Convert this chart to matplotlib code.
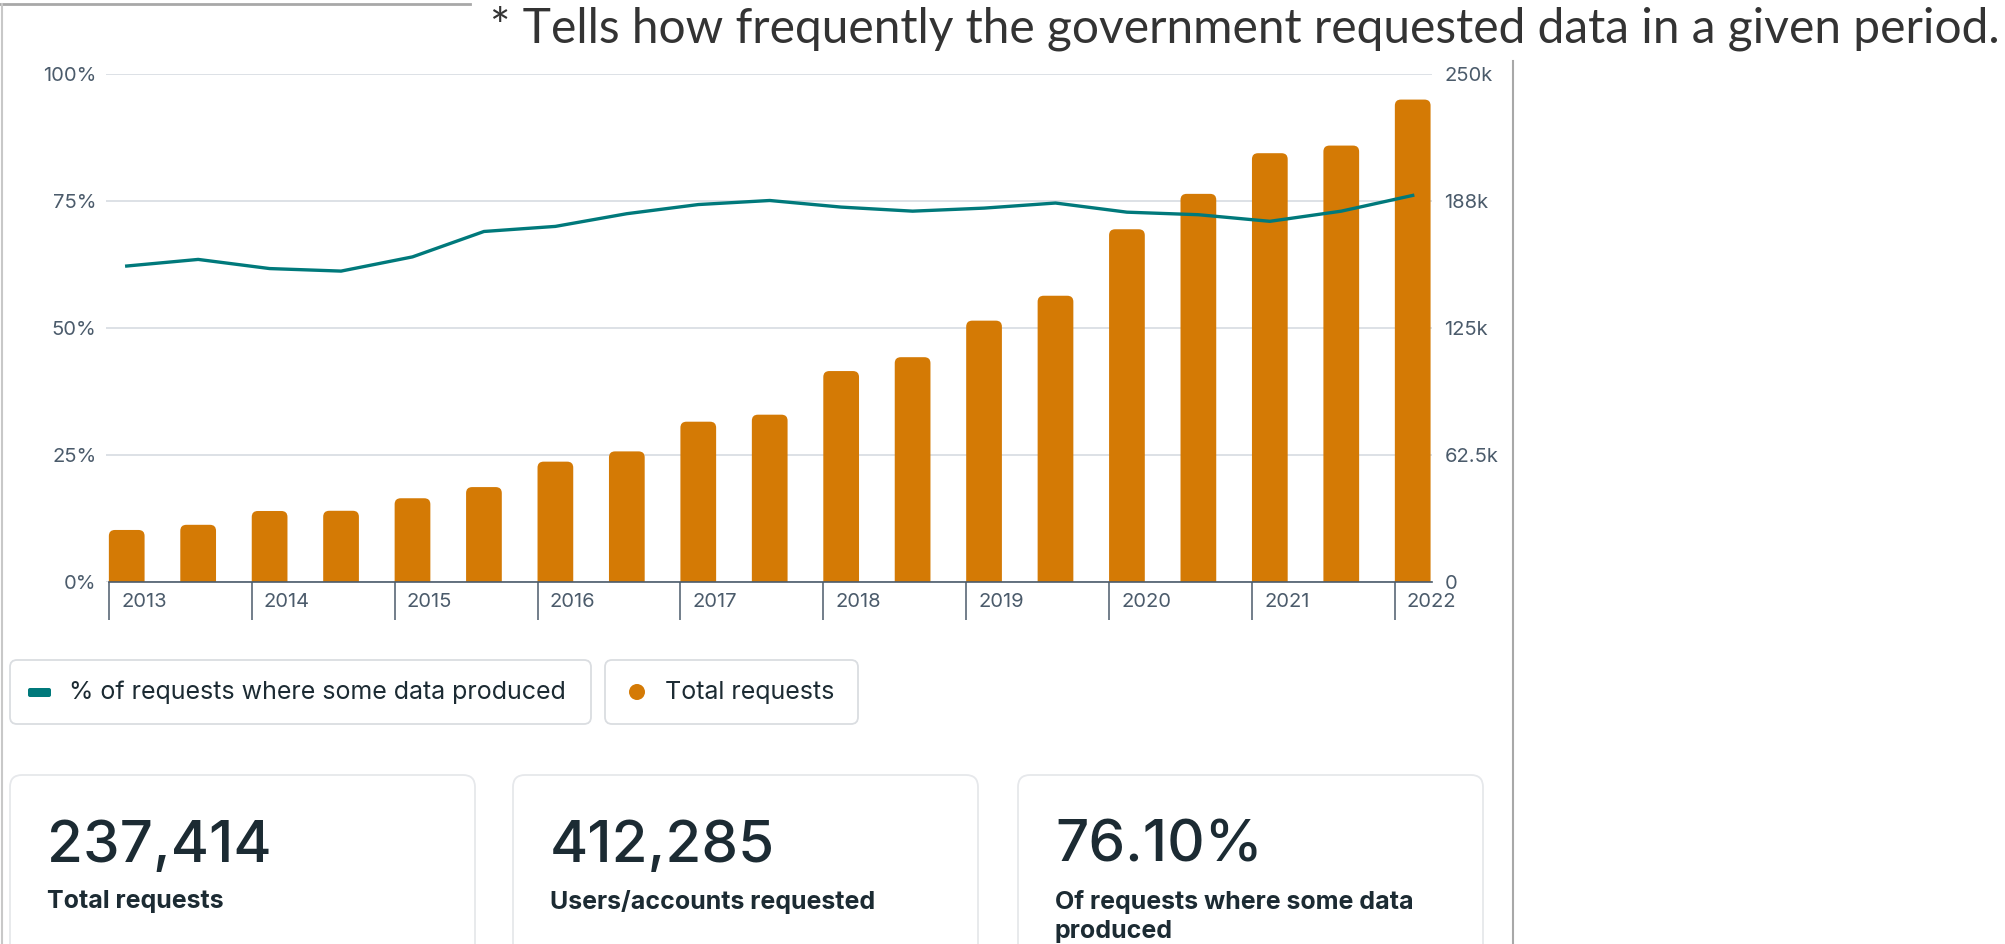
import numpy as np
import matplotlib
matplotlib.use("Agg")
import matplotlib.pyplot as plt
from matplotlib.patches import FancyBboxPatch, Circle
from matplotlib.lines import Line2D
import matplotlib.transforms as mtrans

plt.rcParams["font.family"] = ["Inter", "DejaVu Sans"]

# ---- data -------------------------------------------------------------
years = ["2013", "2014", "2015", "2016", "2017", "2018", "2019", "2020", "2021", "2022"]
# half-year periods, 2013 H1 ... 2022 H1
total_requests = [25607, 28147, 34946, 35051, 41214, 46710, 59229, 64279, 78890, 82341,
                  103815, 110634, 128617, 140875, 173592, 191013, 211024, 214777, 237414]
pct_produced = [62.2, 63.5, 61.7, 61.2, 64.0, 69.0, 70.0, 72.5, 74.3, 75.1,
                73.8, 73.0, 73.6, 74.6, 72.8, 72.3, 71.0, 73.0, 76.1]
users_requested = 412285

left_ticks = [0, 25, 50, 75, 100]
left_labels = ["0%", "25%", "50%", "75%", "100%"]
right_ticks = [0, 62500, 125000, 187500, 250000]
right_labels = ["0", "62.5k", "125k", "188k", "250k"]

series_names = ["% of requests where some data produced", "Total requests"]
title = "* Tells how frequently the government requested data in a given period."

ORANGE = "#D47A05"
TEAL = "#00797B"
SLATE = "#4B5B6B"
GRID = "#D3D9DF"
DARK = "#1C2B33"

W, H = 2005, 944
fig = plt.figure(figsize=(W / 100, H / 100), dpi=100)

# decoration layer in pixel coordinates
deco = fig.add_axes([0, 0, 1, 1], zorder=-1)
deco.set_xlim(0, W)
deco.set_ylim(H, 0)
deco.axis("off")

# ---- chart ------------------------------------------------------------
x = np.arange(len(total_requests))
bounds = np.arange(0, len(total_requests) + 1, 2) - 0.25

ax2 = fig.add_axes([106 / W, 1 - 582 / H, (1432 - 106) / W, 508 / H])
ax = ax2.twinx()
ax.yaxis.tick_left()
ax2.yaxis.tick_right()
ax.set_zorder(ax2.get_zorder() + 1)
ax.patch.set_visible(False)

ax2.set_xlim(-0.29, 18.27)
ax2.set_ylim(0, 250000)
bars = ax2.bar(x, total_requests, width=0.5, color=ORANGE, zorder=2)

# round the top corners (~6 px): swap each bar for a rounded patch
rx = 0.085
ry = 6 / 508 * 250000
for b in bars:
    b.set_visible(False)
    ax2.add_patch(FancyBboxPatch((b.get_x(), -ry), b.get_width(), b.get_height() + ry,
                                 boxstyle=f"round,pad=0,rounding_size={rx}",
                                 mutation_aspect=ry / rx, fc=ORANGE, ec="none",
                                 zorder=2))

ax2.set_yticks(right_ticks)
ax2.set_yticklabels(right_labels)
ax2.grid(True, axis="y", color=GRID, lw=1.1)
ax2.set_axisbelow(True)

ax.plot(x, pct_produced, color=TEAL, lw=2.4, solid_joinstyle="round")
ax.set_ylim(0, 100)
ax.set_yticks(left_ticks)
ax.set_yticklabels(left_labels)

for a in (ax, ax2):
    for s in a.spines.values():
        s.set_visible(False)
    a.tick_params(axis="y", length=0, labelsize=14.5, labelcolor=SLATE)
ax.tick_params(axis="y", pad=7)
ax2.tick_params(axis="y", pad=9)

ax2.spines["bottom"].set_visible(True)
ax2.spines["bottom"].set_bounds(-0.25, 18.27)
ax2.spines["bottom"].set_color(SLATE)
ax2.spines["bottom"].set_linewidth(1.2)
ax2.spines["bottom"].set_zorder(3)
ax2.set_xticks(bounds[:len(years)])
ax2.tick_params(axis="x", length=27, width=1.1, color=SLATE, labelbottom=False)

trans = mtrans.blended_transform_factory(ax2.transData, ax2.transAxes)
for b, yr in zip(bounds, years):
    ax2.text(b + 0.17, -0.04, yr, transform=trans, ha="left", va="center",
             fontsize=14.5, color=SLATE)

# ---- frame lines and title ---------------------------------------------
deco.add_line(Line2D([0, 470], [4, 4], color="#A8A8A8", lw=2))
deco.add_line(Line2D([2, 2], [4, H], color="#C8C8C8", lw=1.5))
deco.add_line(Line2D([1513, 1513], [61, H], color="#A8A8A8", lw=1.5))
deco.text(490, 28, title, family=["Lato", "DejaVu Sans"], fontsize=34.5,
          color="#333333", va="center", ha="left")

# ---- legend boxes --------------------------------------------------------
def box(x0, y0, x1, y1, r, ec):
    deco.add_patch(FancyBboxPatch((x0, y0), x1 - x0, y1 - y0,
                                  boxstyle=f"round,pad=0,rounding_size={r}",
                                  fc="white", ec=ec, lw=1.3))

box(10, 660, 591, 724, 7, "#DADDE1")
box(605, 660, 858, 724, 7, "#DADDE1")
deco.add_patch(FancyBboxPatch((28, 688), 23, 9, boxstyle="round,pad=0,rounding_size=2",
                              fc=TEAL, ec="none"))
deco.text(69, 692, series_names[0], fontsize=18, color=DARK, va="center")
deco.add_patch(Circle((637, 692), 8, fc=ORANGE, ec="none"))
deco.text(665, 692, series_names[1], fontsize=18, color=DARK, va="center")

# ---- stat cards ------------------------------------------------------------
stat_values = [f"{total_requests[-1]:,}", f"{users_requested:,}", f"{pct_produced[-1]:.2f}%"]
stat_labels = ["Total requests", "Users/accounts requested",
               "Of requests where some data\nproduced"]
card_x = [10, 513, 1018]
for cx, val, lab in zip(card_x, stat_values, stat_labels):
    box(cx, 775, cx + 465, H + 30, 12, "#E6E8EB")
    deco.text(cx + 37, 847, val, fontsize=42, fontweight="medium", color=DARK, va="center")
    deco.text(cx + 37, 890, lab, fontsize=18, fontweight="bold", color=DARK,
              va="top", linespacing=1.35)

fig.savefig("out.png", dpi=100)
